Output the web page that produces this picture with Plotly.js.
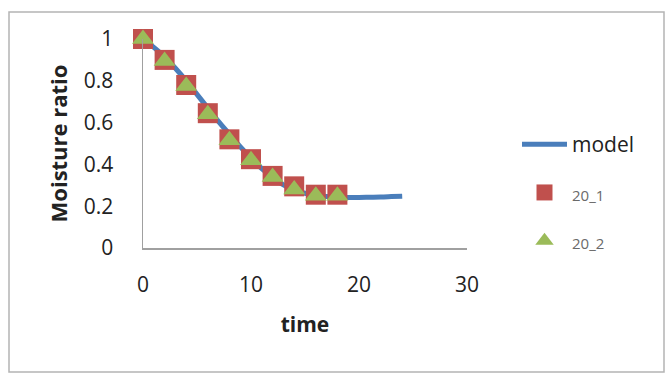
<!DOCTYPE html>
<html>
<head>
<meta charset="utf-8">
<script src="https://cdn.plot.ly/plotly-3.0.1.min.js"></script>
<style>
  html, body { margin: 0; padding: 0; background: #ffffff; }
  #chart { width: 665px; height: 373px; }
</style>
</head>
<body>
<div id="chart"></div>
<script>
// Drying curve: fitted model and two measured runs
const modelTime = [0, 1, 2, 3, 4, 5, 6, 7, 8, 9, 10, 11, 12, 13, 14, 15, 16, 17, 18, 19, 20, 21, 22, 23, 24];
const modelMR = [1.0, 0.96, 0.915, 0.86, 0.80, 0.735, 0.67, 0.605, 0.545, 0.485, 0.43, 0.38, 0.338, 0.302, 0.277, 0.262, 0.252, 0.246, 0.243, 0.242, 0.242, 0.243, 0.244, 0.246, 0.248];

const runTime = [0, 2, 4, 6, 8, 10, 12, 14, 16, 18];
const run1MR = [1.0, 0.90, 0.78, 0.645, 0.52, 0.425, 0.345, 0.295, 0.255, 0.255];
const run2MR = [1.0, 0.895, 0.775, 0.64, 0.515, 0.42, 0.34, 0.28, 0.25, 0.25];

const xTicks = [0, 10, 20, 30];
const yTicks = [0, 0.2, 0.4, 0.6, 0.8, 1];

const FONT = 'Open Sans, Calibri, sans-serif';

const traces = [
  {
    x: modelTime, y: modelMR, name: 'model', type: 'scatter', mode: 'lines',
    line: { color: '#4a7ebb', width: 5, shape: 'spline' },
    legendgroup: 'a', cliponaxis: false
  },
  {
    x: runTime, y: run1MR, type: 'scatter', mode: 'markers',
    name: '<span style="font-size:15px;color:#6a6a6a">20_1</span>',
    marker: { symbol: 'square', size: 20, color: '#c0504d', line: { width: 0 } },
    legendgroup: 'b', cliponaxis: false
  },
  {
    x: runTime, y: run2MR, type: 'scatter', mode: 'markers',
    name: '<span style="font-size:15px;color:#6a6a6a">20_2</span>',
    marker: { symbol: 'triangle-up', size: 19, color: '#9bbb59', line: { width: 0 } },
    legendgroup: 'c', cliponaxis: false
  }
];

const L = 143, R = 198, T = 39, B = 125;
const pw = 665 - L - R, ph = 373 - T - B;
const px = v => (v - L) / pw;
const py = v => (373 - B - v) / ph;

const layout = {
  width: 665, height: 373,
  margin: { l: L, r: R, t: T, b: B, pad: 0 },
  paper_bgcolor: '#ffffff', plot_bgcolor: '#ffffff',
  font: { family: FONT, color: '#222222', size: 21 },
  showlegend: true,
  legend: {
    x: px(517), y: py(124), xanchor: 'left', yanchor: 'top',
    font: { family: FONT, size: 21, color: '#222222' },
    tracegroupgap: 18, itemwidth: 45, bgcolor: 'rgba(0,0,0,0)'
  },
  xaxis: {
    range: [0, 30], tickvals: xTicks, ticktext: xTicks.map(String),
    showgrid: false, zeroline: false, showline: true, linecolor: '#a0a0a0', linewidth: 1.5,
    ticks: '', ticklabelstandoff: 17, tickfont: { size: 21, color: '#222222' },
    title: { text: 'time', font: { size: 21, color: '#222222', weight: 'bold' }, standoff: 20 },
    fixedrange: true, automargin: false
  },
  yaxis: {
    range: [0, 1], tickvals: yTicks, ticktext: yTicks.map(String),
    showgrid: false, zeroline: false, showline: true, linecolor: '#a0a0a0', linewidth: 1.5,
    ticks: '', ticklabelstandoff: 24, tickfont: { size: 21, color: '#222222' },
    title: { text: 'Moisture ratio', font: { size: 22, color: '#222222', weight: 'bold' }, standoff: 10 },
    fixedrange: true, automargin: false
  },
  shapes: [{
    type: 'rect', xref: 'paper', yref: 'paper', layer: 'below',
    x0: px(9), x1: px(664), y0: py(372), y1: py(12),
    line: { color: '#b4b4b4', width: 1.5 }, fillcolor: 'rgba(0,0,0,0)'
  }]
};

Plotly.newPlot('chart', traces, layout, { displayModeBar: false, staticPlot: true });
</script>
</body>
</html>
